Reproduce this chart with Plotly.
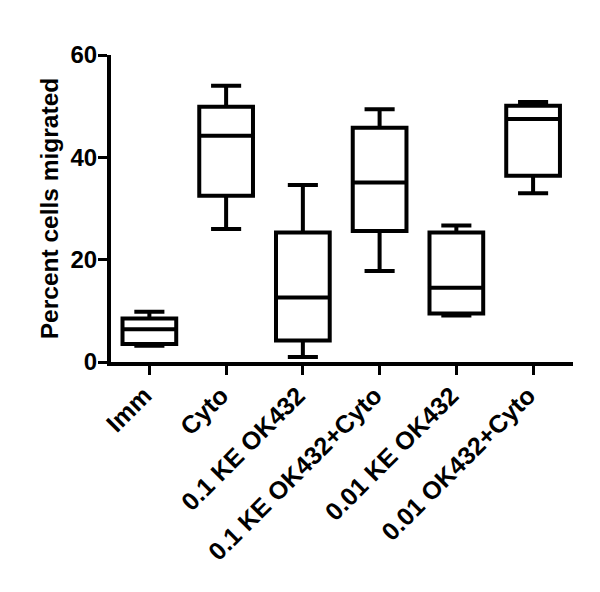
import plotly.graph_objects as go

categories = ["Imm", "Cyto", "0.1 KE OK432", "0.1 KE OK432+Cyto", "0.01 KE OK432", "0.01 OK432+Cyto"]
lower_whisker = [3.2, 26.0, 1.0, 17.8, 9.1, 33.0]
q1 = [3.5, 32.5, 4.2, 25.6, 9.5, 36.4]
median = [6.4, 44.2, 12.6, 35.1, 14.5, 47.5]
q3 = [8.5, 49.9, 25.3, 45.8, 25.3, 50.1]
upper_whisker = [9.8, 54.0, 34.6, 49.4, 26.7, 50.8]
y_ticks = [0, 20, 40, 60]

fig = go.Figure()
fig.add_trace(go.Box(
    x=categories,
    q1=q1, median=median, q3=q3,
    lowerfence=lower_whisker, upperfence=upper_whisker,
    fillcolor="white",
    line=dict(color="black", width=4),
    whiskerwidth=0.56,
    width=0.7,
    boxpoints=False,
    showlegend=False,
    hoverinfo="skip",
))

font_family = "Liberation Sans, Arial, sans-serif"
fig.update_layout(
    width=600, height=592,
    margin=dict(l=111, r=27, t=55, b=230, autoexpand=False),
    plot_bgcolor="white", paper_bgcolor="white",
    font=dict(family=font_family, color="black"),
    xaxis=dict(
        type="category",
        range=[-0.5, 5.52],
        showline=True, linecolor="black", linewidth=4,
        ticks="outside", ticklen=9, tickwidth=3, tickcolor="black",
        tickangle=-45,
        ticklabelshift=-5, ticklabelstandoff=-4,
        tickfont=dict(size=25, weight="bold", family=font_family, color="black"),
        showgrid=False, zeroline=False,
    ),
    yaxis=dict(
        range=[0, 60],
        tickvals=y_ticks,
        showline=True, linecolor="black", linewidth=4,
        ticks="outside", ticklen=9, tickwidth=3, tickcolor="black",
        ticklabelstandoff=-4,
        tickfont=dict(size=24, weight="bold", family=font_family, color="black"),
        showgrid=False, zeroline=False,
        title=dict(text="Percent cells migrated",
                   font=dict(size=24.5, weight="bold", family=font_family, color="black"),
                   standoff=6),
    ),
)

fig.write_html("out.html", config={"displayModeBar": False},
               post_script="document.body.style.margin='0';document.body.style.overflow='hidden';")
